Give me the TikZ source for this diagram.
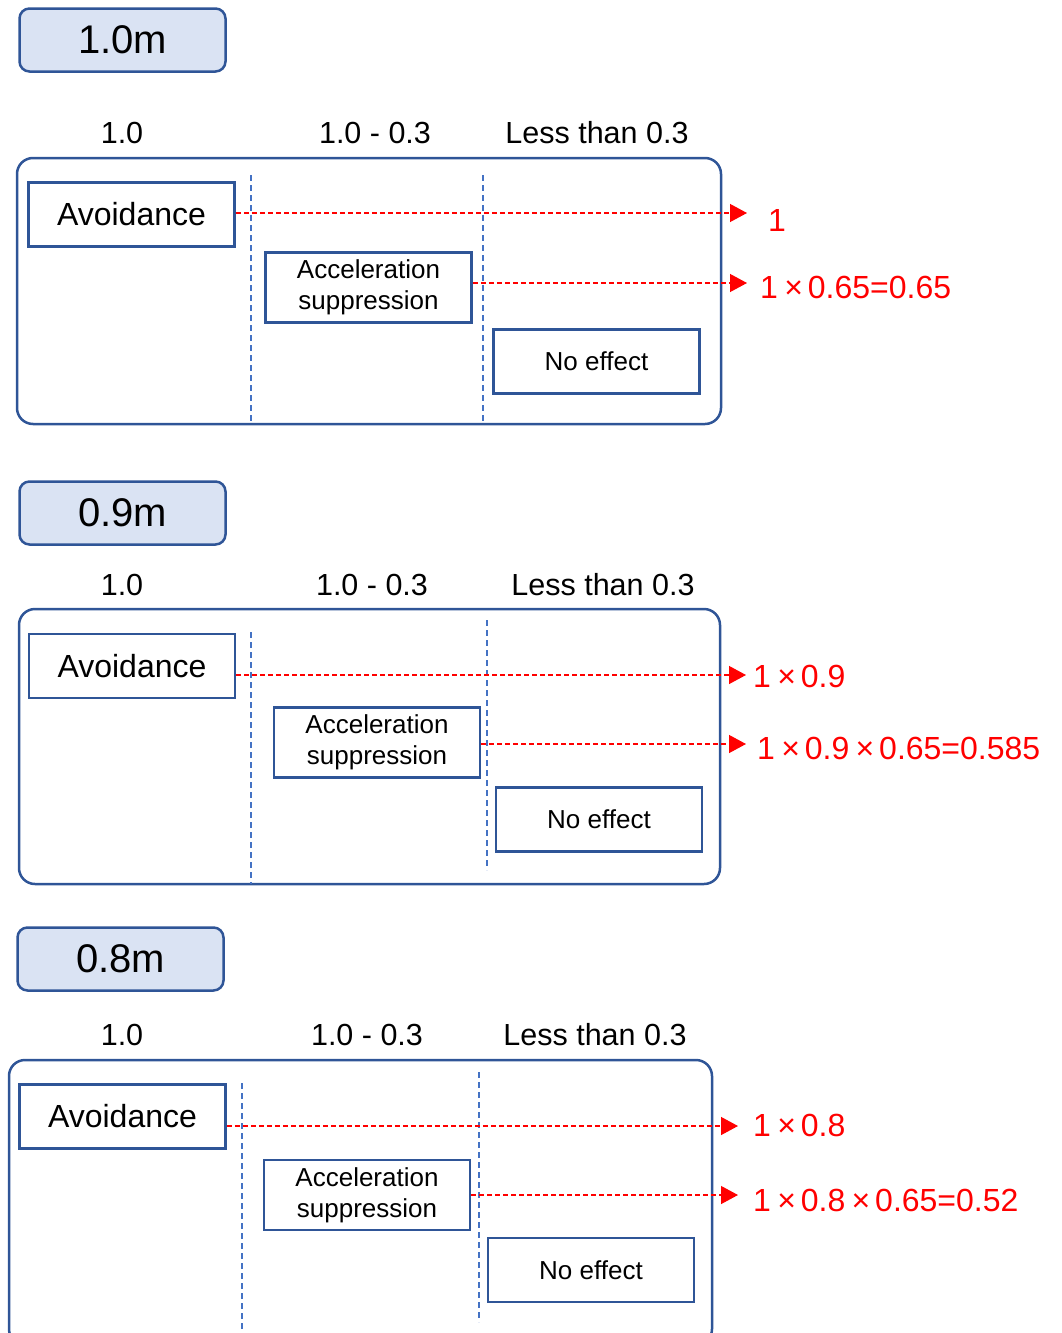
\documentclass[tikz,border=0pt]{standalone}
\usepackage{fontspec}
\setmainfont{Liberation Sans}
\usetikzlibrary{arrows.meta}
\definecolor{BoxBlue}{HTML}{2F5597}
\definecolor{TitleFill}{HTML}{DAE3F3}
\definecolor{GridBlue}{HTML}{4472C4}
\definecolor{MarkRed}{HTML}{FF0000}

\newcommand{\mul}{\hspace{0.2em}×\hspace{0.15em}}

\tikzset{
  titlebox/.style={draw=BoxBlue, fill=TitleFill, line width=2.5pt, rounded corners=10pt,
    minimum width=206pt, minimum height=63pt, inner sep=0pt, font=\fontsize{40}{46}\selectfont},
  colhead/.style={font=\fontsize{30.5}{35}\selectfont, inner sep=0pt},
  frame/.style={draw=BoxBlue, line width=2.5pt, rounded corners=16pt},
  colline/.style={draw=GridBlue, line width=1.4pt, dash pattern=on 6pt off 4pt},
  casebox/.style={draw=BoxBlue, line width=2.5pt, minimum width=206pt, inner sep=0pt, align=center},
  avoidbox/.style={casebox, minimum height=64pt, font=\fontsize{32}{36}\selectfont},
  accelbox/.style={casebox, minimum height=70pt, font=\fontsize{26}{31}\selectfont},
  noeffbox/.style={casebox, minimum height=64pt, font=\fontsize{26}{31}\selectfont},
  redline/.style={draw=MarkRed, line width=1.3pt, dash pattern=on 5pt off 3pt,
    -{Triangle[length=17pt,width=18pt,fill=MarkRed]}},
  result/.style={anchor=west, inner sep=0pt, text=MarkRed, font=\fontsize{32}{36}\selectfont}
}

\begin{document}
\begin{tikzpicture}[x=1pt, y=-1pt]
  \useasboundingbox (0,0) rectangle (1062,1333);

  %% 1.0m
  \node[titlebox] (title1) at (122.5,40) {1.0m};
  \node[colhead] (hdr1a) at (122,133) {1.0};
  \node[colhead] (hdr1b) at (375,133) {1.0 - 0.3};
  \node[colhead] (hdr1c) at (597,133) {Less than 0.3};
  \draw[frame] (17,158) rectangle (721,424);
  \draw[colline] (251,175) -- (251,424);
  \draw[colline] (483,175) -- (483,424);
  \node[avoidbox] (avoid1) at (131.5,214.5) {Avoidance};
  \node[accelbox] (accel1) at (368.5,287.5) {Acceleration\\suppression};
  \node[noeffbox] (noeff1) at (596.5,361.5) {No effect};
  % results
  \coordinate (tip1a) at (747,213);
  \coordinate (tip1b) at (747,283);
  \draw[redline] (avoid1.east |- tip1a) -- (tip1a);
  \draw[redline] (accel1.east |- tip1b) -- (tip1b);
  \node[result] (res1a) at (768,220) {1};
  \node[result] (res1b) at (760,287) {1\mul 0.65=0.65};

  %% 0.9m
  \node[titlebox] (title2) at (122.5,513) {0.9m};
  \node[colhead] (hdr2a) at (122,585) {1.0};
  \node[colhead] (hdr2b) at (372,585) {1.0 - 0.3};
  \node[colhead] (hdr2c) at (603,585) {Less than 0.3};
  \draw[frame] (19,609) rectangle (720,884);
  \draw[colline] (251,632) -- (251,884);
  \draw[colline] (487,620) -- (487,870);
  \node[avoidbox] (avoid2) at (132,666) {Avoidance};
  \node[accelbox] (accel2) at (377,742.5) {Acceleration\\suppression};
  \node[noeffbox] (noeff2) at (599,819.5) {No effect};
  % results
  \coordinate (tip2a) at (746,675);
  \coordinate (tip2b) at (746,744);
  \draw[redline] (avoid2.east |- tip2a) -- (tip2a);
  \draw[redline] (accel2.east |- tip2b) -- (tip2b);
  \node[result] (res2a) at (753,676) {1\mul 0.9};
  \node[result] (res2b) at (757,748) {1\mul 0.9\mul 0.65=0.585};

  %% 0.8m
  \node[titlebox] (title3) at (120.5,959) {0.8m};
  \node[colhead] (hdr3a) at (122,1035) {1.0};
  \node[colhead] (hdr3b) at (367,1035) {1.0 - 0.3};
  \node[colhead] (hdr3c) at (595,1035) {Less than 0.3};
  \draw[frame] (9,1060) rectangle (712,1345);
  \draw[colline] (242,1083) -- (242,1333);
  \draw[colline] (479,1072) -- (479,1322);
  \node[avoidbox] (avoid3) at (122.5,1116.5) {Avoidance};
  \node[accelbox] (accel3) at (367,1195) {Acceleration\\suppression};
  \node[noeffbox] (noeff3) at (591,1270) {No effect};
  % results
  \coordinate (tip3a) at (738,1126);
  \coordinate (tip3b) at (738,1195);
  \draw[redline] (avoid3.east |- tip3a) -- (tip3a);
  \draw[redline] (accel3.east |- tip3b) -- (tip3b);
  \node[result] (res3a) at (753,1125) {1\mul 0.8};
  \node[result] (res3b) at (753,1200) {1\mul 0.8\mul 0.65=0.52};
\end{tikzpicture}
\end{document}
